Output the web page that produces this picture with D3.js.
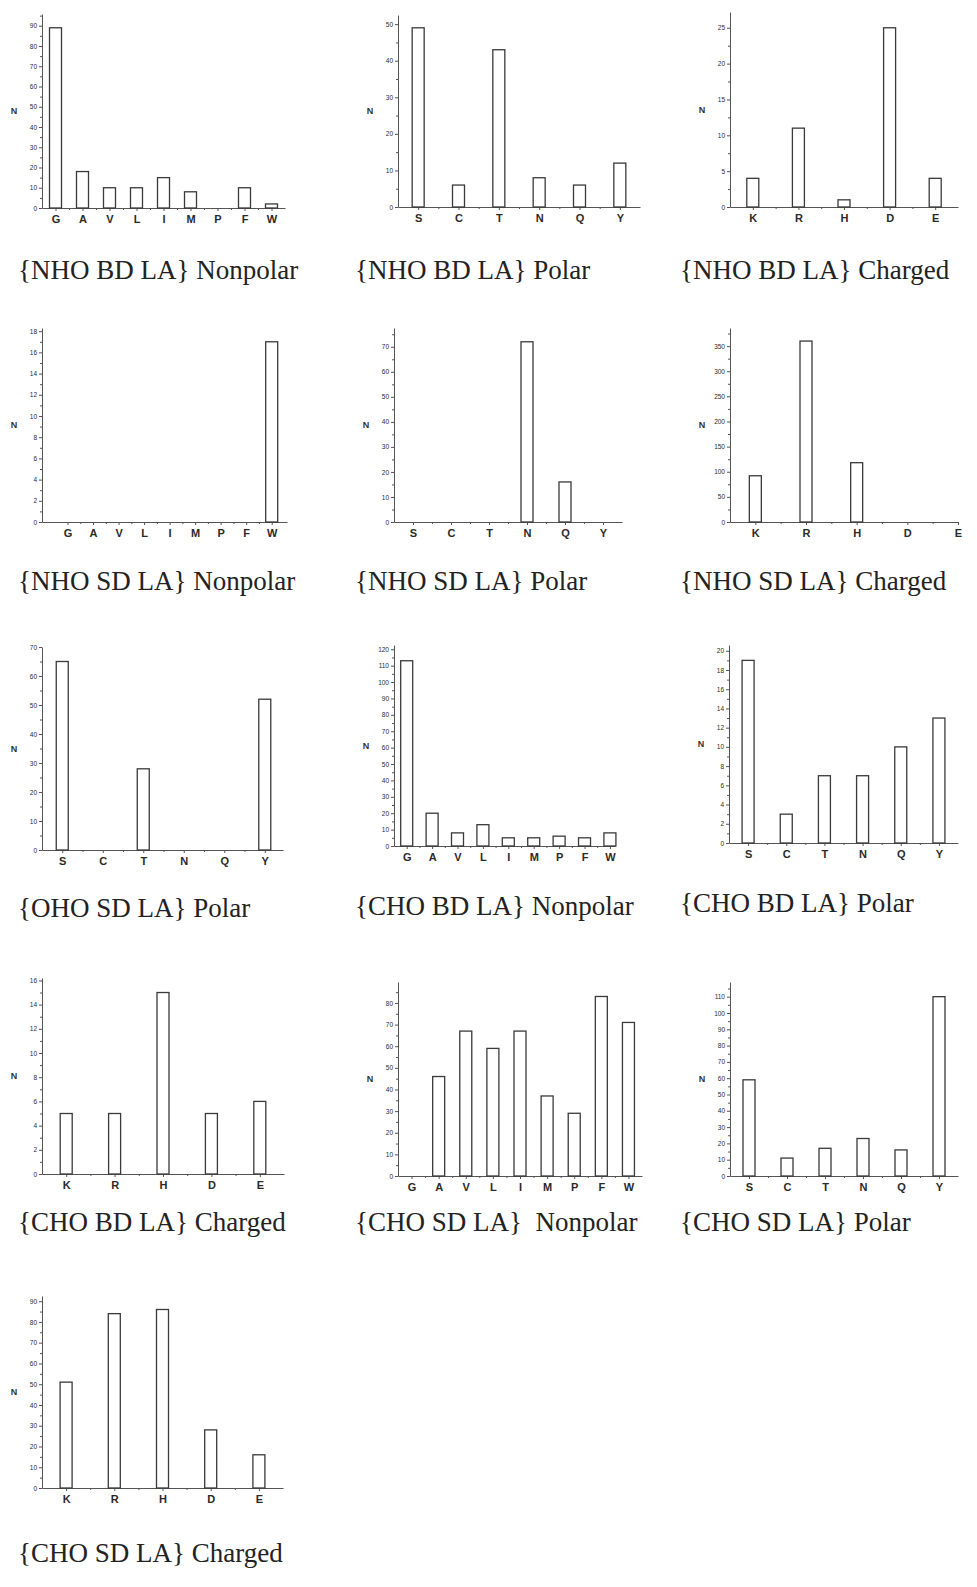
<!DOCTYPE html>
<html>
<head>
<meta charset="utf-8">
<script src="https://cdn.jsdelivr.net/npm/d3@7"></script>
<style>
body { margin: 0; background: #fff; }
svg { display: block; }
.axis text { font-family: "Liberation Sans", Arial, sans-serif; fill: #2a2a2a; }
.axis path, .axis line { stroke: #555; }
</style>
</head>
<body>
<script>

// amino acid groups
var nonpolar = ["G", "A", "V", "L", "I", "M", "P", "F", "W"]
var polar = ["S", "C", "T", "N", "Q", "Y"]
var charged = ["K", "R", "H", "D", "E"]

// counts N
var nhoBdNonpolar = [89, 18, 10, 10, 15, 8, 0, 10, 2]
var nhoBdPolar = [49, 6, 43, 8, 6, 12]
var nhoBdCharged = [4, 11, 1, 25, 4]
var nhoSdNonpolar = [0, 0, 0, 0, 0, 0, 0, 0, 17]
var nhoSdPolar = [0, 0, 0, 72, 16, 0]
var nhoSdCharged = [92, 360, 118, 0, 0]
var ohoSdPolar = [65, 0, 28, 0, 0, 52]
var choBdNonpolar = [113, 20, 8, 13, 5, 5, 6, 5, 8]
var choBdPolar = [19, 3, 7, 7, 10, 13]
var choBdCharged = [5, 5, 15, 5, 6]
var choSdNonpolar = [0, 46, 67, 59, 67, 37, 29, 83, 71]
var choSdPolar = [59, 11, 17, 23, 16, 110]
var choSdCharged = [51, 84, 86, 28, 16]

var captions = [
    "{NHO BD LA} Nonpolar", "{NHO BD LA} Polar", "{NHO BD LA} Charged",
    "{NHO SD LA} Nonpolar", "{NHO SD LA} Polar", "{NHO SD LA} Charged",
    "{OHO SD LA} Polar", "{CHO BD LA} Nonpolar", "{CHO BD LA} Polar",
    "{CHO BD LA} Charged", "{CHO SD LA}\u00a0 Nonpolar", "{CHO SD LA} Polar",
    "{CHO SD LA} Charged"
]

// layout of each small plot (pixels + axis ranges)
var panels = [
    {cats: nonpolar, vals: nhoBdNonpolar, yMax: 95.8, yStep: 10, xd: [0.5, 9.5],  left: 42,  right: 285, top: 14,  base: 208,  capX: 18,  capY: 279},
    {cats: polar,    vals: nhoBdPolar,    yMax: 52.5, yStep: 10, xd: [0.5, 6.5],  left: 398, right: 640, top: 15,  base: 207,  capX: 355, capY: 279},
    {cats: charged,  vals: nhoBdCharged,  yMax: 27.2, yStep: 5,  xd: [0.5, 5.5],  left: 730, right: 958, top: 12,  base: 207,  capX: 680, capY: 279},
    {cats: nonpolar, vals: nhoSdNonpolar, yMax: 18.3, yStep: 2,  xd: [0, 9.6],    left: 42,  right: 287, top: 328, base: 522,  capX: 18,  capY: 590},
    {cats: polar,    vals: nhoSdPolar,    yMax: 77.5, yStep: 10, xd: [0.5, 6.5],  left: 394, right: 622, top: 328, base: 522,  capX: 355, capY: 590},
    {cats: charged,  vals: nhoSdCharged,  yMax: 386,  yStep: 50, xd: [0.5, 5.0],  left: 730, right: 958, top: 328, base: 522,  capX: 680, capY: 590},
    {cats: polar,    vals: ohoSdPolar,    yMax: 70,   yStep: 10, xd: [0.5, 6.45], left: 42,  right: 283, top: 647, base: 850,  capX: 18,  capY: 917},
    {cats: nonpolar, vals: choBdNonpolar, yMax: 122.6,yStep: 10, xd: [0.5, 9.2],  left: 394, right: 615, top: 645, base: 846,  capX: 355, capY: 915},
    {cats: polar,    vals: choBdPolar,    yMax: 20.6, yStep: 2,  xd: [0.5, 6.5],  left: 729, right: 958, top: 645, base: 843,  capX: 680, capY: 912},
    {cats: charged,  vals: choBdCharged,  yMax: 16.2, yStep: 2,  xd: [0.5, 5.5],  left: 42,  right: 284, top: 978, base: 1174, capX: 18,  capY: 1231},
    {cats: nonpolar, vals: choSdNonpolar, yMax: 89.7, yStep: 10, xd: [0.5, 9.5],  left: 398, right: 642, top: 982, base: 1176, capX: 355, capY: 1231},
    {cats: polar,    vals: choSdPolar,    yMax: 119,  yStep: 10, xd: [0.5, 6.5],  left: 730, right: 958, top: 982, base: 1176, capX: 680, capY: 1231},
    {cats: charged,  vals: choSdCharged,  yMax: 92.5, yStep: 10, xd: [0.5, 5.5],  left: 42,  right: 283, top: 1296,base: 1488, capX: 18,  capY: 1562}
]

var barWidth = 12

var svg = d3.select("body").append("svg")
    .attr("width", 977)
    .attr("height", 1587)

panels.forEach(function(p, i){

    var g = svg.append("g")
    var n = p.cats.length

    var x = d3.scaleLinear().domain(p.xd).range([p.left, p.right])
    var y = d3.scaleLinear().domain([0, p.yMax]).range([p.base, p.top])

    var major = d3.range(0, p.yMax + 1e-9, p.yStep)
    var minor = d3.range(p.yStep / 2, p.yMax + 1e-9, p.yStep)

    // y axis
    g.append("g")
        .attr("class", "axis")
        .attr("transform", "translate(" + p.left + ",0)")
        .call(d3.axisLeft(y).tickValues(major).tickSize(3).tickSizeOuter(0).tickPadding(2))
        .selectAll("text").style("font-size", "6.5px")

    g.append("g")
        .attr("class", "axis")
        .attr("transform", "translate(" + p.left + ",0)")
        .call(d3.axisLeft(y).tickValues(minor).tickSize(2).tickFormat(""))
        .select(".domain").remove()

    // x axis
    var pos = d3.range(1, n + 1)
    g.append("g")
        .attr("class", "axis")
        .attr("transform", "translate(0," + p.base + ")")
        .call(d3.axisBottom(x).tickValues(pos).tickSize(3).tickSizeOuter(0).tickPadding(4)
            .tickFormat(function(d){ return p.cats[d - 1] }))
        .selectAll("text").style("font-size", "11px").style("font-weight", "bold")

    var halves = d3.range(1.5, n, 1)
    g.append("g")
        .attr("class", "axis")
        .attr("transform", "translate(0," + p.base + ")")
        .call(d3.axisBottom(x).tickValues(halves).tickSize(2).tickFormat(""))
        .select(".domain").remove()

    // bars
    g.append("g")
        .selectAll("rect")
        .data(p.vals.map(function(v, k){ return {v: v, k: k + 1} }).filter(function(d){ return d.v > 0 }))
        .enter()
        .append("rect")
        .attr("x", function(d){ return x(d.k) - barWidth / 2 })
        .attr("y", function(d){ return y(d.v) })
        .attr("width", barWidth)
        .attr("height", function(d){ return p.base - y(d.v) })
        .attr("fill", "#fff")
        .attr("stroke", "#3a3a3a")
        .attr("stroke-width", 1.3)

    // N label
    g.append("text")
        .attr("x", p.left - 28)
        .attr("y", (p.top + p.base) / 2 + 3)
        .attr("text-anchor", "middle")
        .style("font-family", "Liberation Sans, Arial, sans-serif")
        .style("font-size", "9px")
        .style("font-weight", "bold")
        .style("fill", "#333")
        .text("N")

    // caption
    g.append("text")
        .attr("x", p.capX)
        .attr("y", p.capY)
        .style("font-family", "Liberation Serif, Times New Roman, serif")
        .style("font-size", "27px")
        .style("fill", "#222")
        .text(captions[i])
})

</script>
</body>
</html>
